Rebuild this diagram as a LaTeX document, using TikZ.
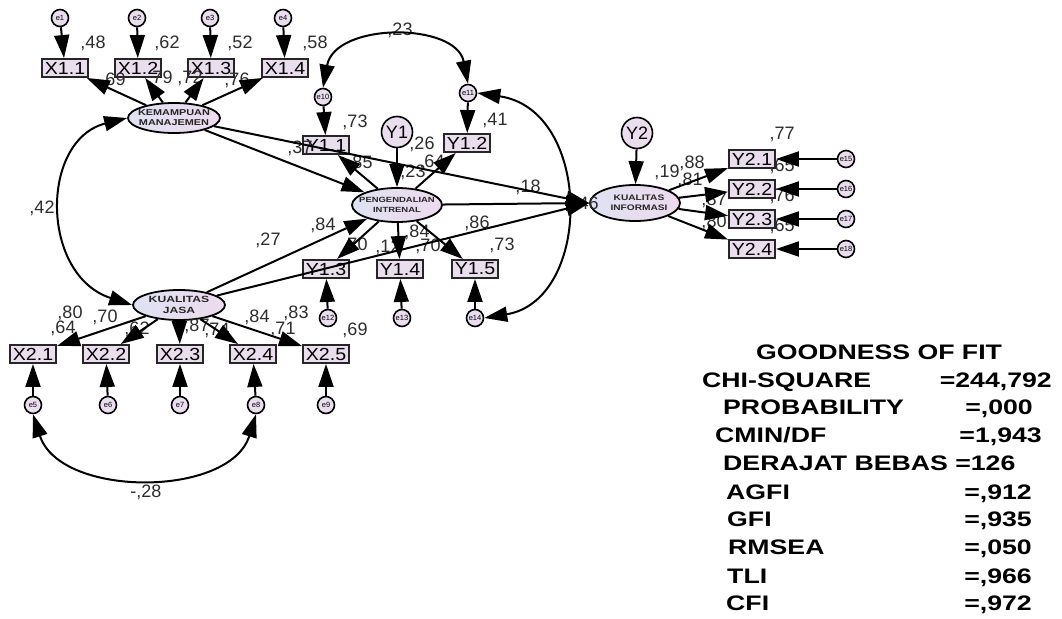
\documentclass[tikz,border=0pt]{standalone}
\usepackage{fontspec}
\usepackage{graphicx}
\setmainfont{Liberation Sans}
\usetikzlibrary{arrows.meta,shapes.geometric}
\definecolor{boxfill}{RGB}{234,222,238}
\definecolor{ellL}{RGB}{222,226,242}
\definecolor{ellR}{RGB}{238,218,238}
\definecolor{txt}{RGB}{45,45,45}
\newcommand{\bxt}[1]{\scalebox{1.12}[1]{#1}}
\newcommand{\gft}[1]{\scalebox{1.27}[1]{#1}}
\begin{document}
\begin{tikzpicture}[x=1pt,y=-1pt,
 obs/.style={draw=black!85, line width=1.9pt, fill=boxfill, minimum width=46pt, minimum height=18pt, inner sep=0pt, font=\fontsize{17.5}{17.5}\selectfont},
 lat/.style={ellipse, draw=black, line width=1.8pt, left color=ellL, right color=ellR, inner sep=0pt},
 lattext/.style={inner sep=0pt, align=center, text=black!85},
 err/.style={circle, draw=black, line width=1.6pt, fill=boxfill, minimum size=17pt, inner sep=0pt, font=\fontsize{7.5}{8}\selectfont},
 res/.style={circle, draw=black, line width=1.6pt, fill=boxfill, minimum size=31pt, inner sep=0pt, font=\fontsize{18}{18}\selectfont},
 lab/.style={inner sep=0pt, text=txt, font=\fontsize{18}{18}\selectfont},
 arr/.style={line width=2pt, -{Triangle[length=23pt,width=15pt]}},
 cov/.style={line width=2pt, {Triangle[length=23pt,width=15pt]}-{Triangle[length=23pt,width=15pt]}},
 gof/.style={inner sep=0pt, font=\bfseries\fontsize{21}{21}\selectfont}
]
\useasboundingbox (0,0) rectangle (1062,618);
\fill[white] (0,0) rectangle (1062,618);

% ---------- nodes ----------
\node[err] (e1) at (60,18) {e1};
\node[err] (e2) at (137,18) {e2};
\node[err] (e3) at (210,18) {e3};
\node[err] (e4) at (283,18) {e4};
\node[obs] (X11) at (65,68) {\bxt{X1.1}};
\node[obs] (X12) at (138,68) {\bxt{X1.2}};
\node[obs] (X13) at (211,68) {\bxt{X1.3}};
\node[obs] (X14) at (285,68) {\bxt{X1.4}};
\node[lat, minimum width=92pt, minimum height=30pt] (KM) at (174,118) {};
\node[lattext, font=\bfseries\fontsize{8.5}{10}\selectfont] (KMt) at (174,118) {\scalebox{1.28}[1]{KEMAMPUAN}\\\scalebox{1.28}[1]{MANAJEMEN}};

\node[err] (e10) at (323,97) {e10};
\node[err] (e11) at (468,93) {e11};
\node[obs] (Y11) at (326,145) {\bxt{Y1.1}};
\node[obs] (Y12) at (467,143) {\bxt{Y1.2}};
\node[res] (Y1) at (397,132) {Y1};
\node[lat, minimum width=90pt, minimum height=34pt] (PI) at (397,205) {};
\node[lattext, font=\bfseries\fontsize{7.5}{9.5}\selectfont] (PIt) at (397,205) {\scalebox{1.26}[1]{PENGENDALIAN}\\\scalebox{1.26}[1]{INTRENAL}};

\node[lat, minimum width=90pt, minimum height=36pt] (KI) at (635,203) {};
\node[lattext, font=\bfseries\fontsize{8}{10}\selectfont] (KIt) at (639,203) {\scalebox{1.27}[1]{KUALITAS}\\\scalebox{1.27}[1]{INFORMASI}};
\node[res] (Y2) at (637,133) {Y2};
\node[obs] (Y21) at (752,159) {\bxt{Y2.1}};
\node[obs] (Y22) at (752,189) {\bxt{Y2.2}};
\node[obs] (Y23) at (752,219) {\bxt{Y2.3}};
\node[obs] (Y24) at (752,249) {\bxt{Y2.4}};
\node[err] (e15) at (846,159) {e15};
\node[err] (e16) at (846,189) {e16};
\node[err] (e17) at (846,219) {e17};
\node[err] (e18) at (846,249) {e18};

\node[obs] (Y13) at (326,269) {\bxt{Y1.3}};
\node[obs] (Y14) at (400,269) {\bxt{Y1.4}};
\node[obs] (Y15) at (475,269) {\bxt{Y1.5}};
\node[err] (e12) at (328,318) {e12};
\node[err] (e13) at (402,318) {e13};
\node[err] (e14) at (475,318) {e14};

\node[lat, minimum width=92pt, minimum height=30pt] (KJ) at (179,305) {};
\node[lattext, font=\bfseries\fontsize{9}{10.5}\selectfont] (KJt) at (179,305) {\scalebox{1.35}[1]{KUALITAS}\\\scalebox{1.35}[1]{JASA}};
\node[obs] (X21) at (33,354) {\bxt{X2.1}};
\node[obs] (X22) at (106,354) {\bxt{X2.2}};
\node[obs] (X23) at (180,354) {\bxt{X2.3}};
\node[obs] (X24) at (253,354) {\bxt{X2.4}};
\node[obs] (X25) at (326,354) {\bxt{X2.5}};
\node[err] (e5) at (33,405) {e5};
\node[err] (e6) at (108,405) {e6};
\node[err] (e7) at (180,405) {e7};
\node[err] (e8) at (256,405) {e8};
\node[err] (e9) at (326,405) {e9};

% ---------- labels ----------
\node[lab] (l1) at (93,43) {,48};
\node[lab] (l2) at (167,43) {,62};
\node[lab] (l3) at (240,43) {,52};
\node[lab] (l4) at (315,43) {,58};
\node[lab] (l5) at (113,80) {,69};
\node[lab] (l6) at (160,78) {,79};
\node[lab] (l7) at (190,78) {,72};
\node[lab] (l8) at (237,80) {,76};
\node[lab] (l9) at (42,208) {,42};
\node[lab] (l10) at (400,30) {,23};
\node[lab] (l11) at (355,122) {,73};
\node[lab] (l12) at (495,120) {,41};
\node[lab] (l13) at (422,144) {,26};
\node[lab] (l14) at (413,172) {,23};
\node[lab] (l15) at (360,163) {,85};
\node[lab] (l16) at (432,162) {,64};
\node[lab] (l17) at (300,148) {,37};
\node[lab] (l18) at (528,187) {,18};
\node[lab] (l19) at (586,204) {,46};
\node[lab] (l20) at (667,172) {,19};
\node[lab] (l21) at (692,163) {,88};
\node[lab] (l22) at (690,180) {,81};
\node[lab] (l23) at (714,200) {,87};
\node[lab] (l24) at (714,222) {,80};
\node[lab] (l25) at (782,134) {,77};
\node[lab] (l26) at (782,166) {,65};
\node[lab] (l27) at (782,196) {,76};
\node[lab] (l28) at (782,226) {,65};
\node[lab] (l29) at (70,313) {,80};
\node[lab] (l30) at (63,328) {,64};
\node[lab] (l31) at (105,317) {,70};
\node[lab] (l32) at (137,329) {,62};
\node[lab] (l33) at (197,326) {,87};
\node[lab] (l34) at (217,330) {,74};
\node[lab] (l35) at (257,317) {,84};
\node[lab] (l36) at (283,329) {,71};
\node[lab] (l37) at (296,313) {,83};
\node[lab] (l38) at (355,330) {,69};
\node[lab] (l39) at (268,240) {,27};
\node[lab] (l40) at (323,225) {,84};
\node[lab] (l41) at (355,245) {,70};
\node[lab] (l42) at (388,247) {,12};
\node[lab] (l43) at (417,232) {,84};
\node[lab] (l44) at (428,246) {,70};
\node[lab] (l45) at (477,223) {,86};
\node[lab] (l46) at (502,245) {,73};
\node[lab] (l47) at (146,492) {-,28};

% ---------- edges ----------
\foreach \e/\x in {e1/X11,e2/X12,e3/X13,e4/X14,e10/Y11,e11/Y12,e12/Y13,e13/Y14,e14/Y15,e15/Y21,e16/Y22,e17/Y23,e18/Y24,e5/X21,e6/X22,e7/X23,e8/X24,e9/X25}
  \draw[arr] (\e) -- (\x);
\foreach \x in {X11,X12,X13,X14} \draw[arr] (KM) -- (\x);
\foreach \x in {X21,X22,X23,X24,X25} \draw[arr] (KJ) -- (\x);
\foreach \x in {Y11,Y12,Y13,Y14,Y15} \draw[arr] (PI) -- (\x);
\foreach \x in {Y21,Y22,Y23,Y24} \draw[arr] (KI) -- (\x);
\draw[arr] (Y1) -- (PI);
\draw[arr] (Y2) -- (KI);
\draw[arr] (KM) -- (PI);
\draw[arr] (KJ) -- (PI);
\draw[arr] (KM) -- (KI.west);
\draw[arr] (PI) -- (KI.west);
\draw[arr] (KJ) -- (KI.west);

\draw[cov] (KM.west) .. controls (40,140) and (40,275) .. (KJ.west);
\draw[cov] (e10.north) .. controls (335,22) and (456,22) .. (e11.north);
\draw[cov] (e11.east) .. controls (593,110) and (593,300) .. (e14.east);
\draw[cov] (e5.south) .. controls (60,498) and (230,498) .. (e8.south);

% ---------- goodness of fit ----------
\node[gof, anchor=base] (g0) at (879,359.5) {\gft{GOODNESS OF FIT}};
\node[gof, anchor=base west] (g1) at (702,387.5) {\gft{CHI-SQUARE}};
\node[gof, anchor=base east] (v1) at (1052,387.5) {\gft{=244,792}};
\node[gof, anchor=base west] (g2) at (723,414.5) {\gft{PROBABILITY}};
\node[gof, anchor=base east] (v2) at (1033,414.5) {\gft{=,000}};
\node[gof, anchor=base west] (g3) at (715,442.5) {\gft{CMIN/DF}};
\node[gof, anchor=base east] (v3) at (1042,442.5) {\gft{=1,943}};
\node[gof, anchor=base west] (g4) at (723,470.5) {\gft{DERAJAT BEBAS =126}};
\node[gof, anchor=base west] (g5) at (726,499.5) {\gft{AGFI}};
\node[gof, anchor=base east] (v5) at (1032,499.5) {\gft{=,912}};
\node[gof, anchor=base west] (g6) at (727,526.5) {\gft{GFI}};
\node[gof, anchor=base east] (v6) at (1032,526.5) {\gft{=,935}};
\node[gof, anchor=base west] (g7) at (728,554.5) {\gft{RMSEA}};
\node[gof, anchor=base east] (v7) at (1032,554.5) {\gft{=,050}};
\node[gof, anchor=base west] (g8) at (727,583.5) {\gft{TLI}};
\node[gof, anchor=base east] (v8) at (1032,583.5) {\gft{=,966}};
\node[gof, anchor=base west] (g9) at (726,610.5) {\gft{CFI}};
\node[gof, anchor=base east] (v9) at (1032,610.5) {\gft{=,972}};
\end{tikzpicture}
\end{document}
